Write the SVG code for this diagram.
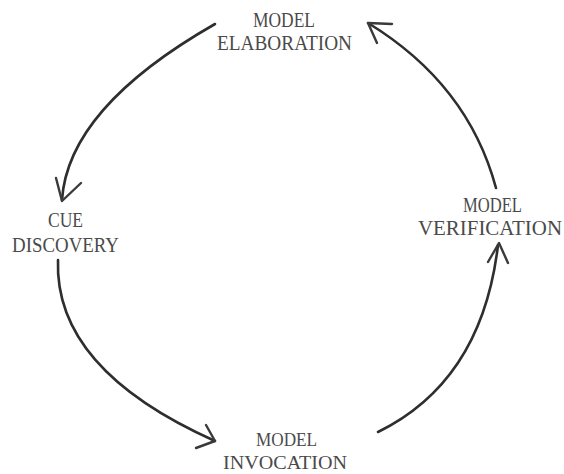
<svg xmlns="http://www.w3.org/2000/svg" width="564" height="474" viewBox="0 0 564 474">
<style>
.lbl{font-family:"Liberation Serif","Times New Roman",serif;font-size:21px;fill:#4a4a4a;}
.sm{font-size:19px;}
.arc{fill:none;stroke:#2e2e2e;stroke-width:2.6;stroke-linecap:round;stroke-linejoin:round;}
.head{fill:none;stroke:#3a3a3a;stroke-width:2.4;stroke-linecap:round;stroke-linejoin:round;}
</style>
<rect width="564" height="474" fill="#ffffff"/>
<g id="elaboration">
<text class="lbl" x="253" y="27" textLength="62" lengthAdjust="spacingAndGlyphs">MODEL</text>
<text class="lbl" x="217" y="50" textLength="135" lengthAdjust="spacingAndGlyphs">ELABORATION</text>
</g>
<g id="cue-discovery">
<text class="lbl" x="48" y="227" textLength="35" lengthAdjust="spacingAndGlyphs">CUE</text>
<text class="lbl" x="12" y="252" textLength="107" lengthAdjust="spacingAndGlyphs">DISCOVERY</text>
</g>
<g id="invocation">
<text class="lbl sm" x="256" y="446" textLength="61" lengthAdjust="spacingAndGlyphs">MODEL</text>
<text class="lbl sm" x="223" y="469" textLength="124" lengthAdjust="spacingAndGlyphs">INVOCATION</text>
</g>
<g id="verification">
<text class="lbl" x="463" y="212" textLength="59" lengthAdjust="spacingAndGlyphs">MODEL</text>
<text class="lbl" x="418" y="235" textLength="144" lengthAdjust="spacingAndGlyphs">VERIFICATION</text>
</g>
<g id="connectors">
<path class="arc" d="M215,24 Q68,108 62,200"/>
<path class="head" d="M56,178 L62,201 L81,183"/>
<path class="arc" d="M58,260 Q54,369 215,441"/>
<path class="head" d="M206,425 L215,441 L196,448"/>
<path class="arc" d="M378,432 Q482,381 498,245"/>
<path class="head" d="M488,262 L499,243 L508,263"/>
<path class="arc" d="M496,188 Q468,84 368,23"/>
<path class="head" d="M392,24 L368,23 L377,43"/>
</g>
</svg>
